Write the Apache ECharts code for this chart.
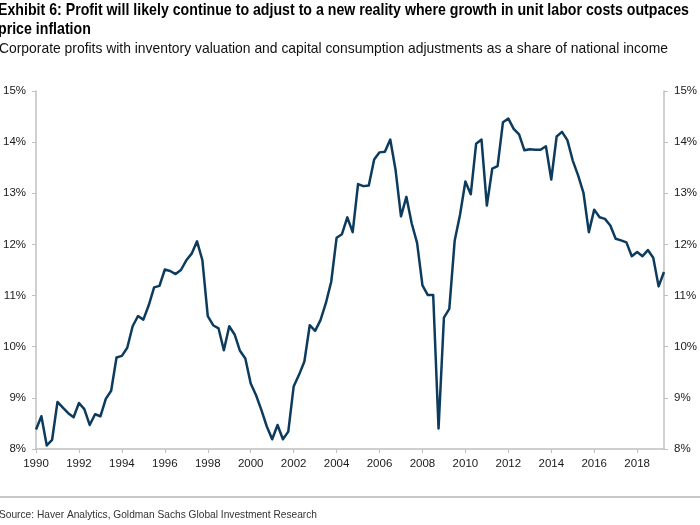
<!DOCTYPE html>
<html>
<head>
<meta charset="utf-8">
<script src="https://cdn.jsdelivr.net/npm/echarts@6/dist/echarts.min.js"></script>
<style>
html,body{margin:0;padding:0;background:#fff;}
#chart{width:700px;height:525px;}
</style>
</head>
<body>
<div id="chart"></div>
<script>
var startYear = 1990;
var profitShare = [
  8.38, 8.64, 8.07, 8.18,
  8.92, 8.81, 8.70, 8.62,
  8.90, 8.78, 8.47, 8.68,
  8.64, 8.98, 9.14, 9.79,
  9.82, 9.98, 10.40, 10.60,
  10.53, 10.81, 11.16, 11.19,
  11.51, 11.48, 11.42, 11.50,
  11.69, 11.82, 12.06, 11.69,
  10.60, 10.42, 10.36, 9.93,
  10.40, 10.24, 9.92, 9.77,
  9.28, 9.05, 8.76, 8.44,
  8.19, 8.47, 8.19, 8.34,
  9.22, 9.45, 9.71, 10.42,
  10.31, 10.52, 10.85, 11.27,
  12.13, 12.20, 12.53, 12.24,
  13.18, 13.14, 13.15, 13.66,
  13.80, 13.81, 14.05, 13.45,
  12.55, 12.93, 12.41, 12.03,
  11.20, 11.01, 11.01, 8.40,
  10.57, 10.74, 12.07, 12.58,
  13.23, 12.98, 13.97, 14.05,
  12.76, 13.48, 13.53, 14.39,
  14.46, 14.26, 14.15, 13.84,
  13.86, 13.85, 13.85, 13.92,
  13.27, 14.11, 14.20, 14.04,
  13.64, 13.35, 13.01, 12.24,
  12.68, 12.53, 12.50, 12.37,
  12.11, 12.08, 12.04, 11.77,
  11.85, 11.77, 11.89, 11.74,
  11.18, 11.46
];
var quarters = [];
for (var i = 0; i < profitShare.length; i++) {
  quarters.push((startYear + Math.floor(i / 4)) + 'Q' + (i % 4 + 1));
}
var yMin = 8, yMax = 15, yStep = 1;

var titleLine1 = 'Exhibit 6: Profit will likely continue to adjust to a new reality where growth in unit labor costs outpaces';
var titleLine2 = 'price inflation';
var subtitleText = 'Corporate profits with inventory valuation and capital consumption adjustments as a share of national income';
var sourceText = 'Source: Haver Analytics, Goldman Sachs Global Investment Research';

var baseFont = '"Liberation Sans", Arial, sans-serif';
var titleFont = 'bold 17px ' + baseFont;
var subFont = '14.5px ' + baseFont;
var srcFont = '11.5px ' + baseFont;

var ctx = document.createElement('canvas').getContext('2d');
function fitScale(text, font, target) {
  ctx.font = font;
  return target / ctx.measureText(text).width;
}
var titleScale = fitScale(titleLine1, titleFont, 691);
var subScale = fitScale(subtitleText, subFont, 669);
var srcScale = fitScale(sourceText, srcFont, 318);

var chart = echarts.init(document.getElementById('chart'));
var axisGray = '#c0c0c0';
var labelStyle = {color: '#1a1a1a', fontFamily: baseFont, fontSize: 11.5};

function txt(text, font, x, y, sx, color) {
  return {type: 'text', x: x, y: y, scaleX: sx, scaleY: 1,
    style: {text: text, font: font, fill: color, textAlign: 'left', textVerticalAlign: 'middle', verticalAlign: 'middle'}};
}

chart.setOption({
  animation: false,
  backgroundColor: '#fff',
  graphic: [
    txt(titleLine1, titleFont, -2, 10.5, titleScale, '#000'),
    txt(titleLine2, titleFont, -2, 29.5, titleScale, '#000'),
    txt(subtitleText, subFont, -1, 48.5, subScale, '#111'),
    {type: 'line', shape: {x1: 0, y1: 497, x2: 700, y2: 497}, style: {stroke: '#c8c8c8', lineWidth: 2}},
    txt(sourceText, srcFont, -1, 514.5, srcScale, '#333')
  ],
  grid: {left: 36, right: 32, top: 91, bottom: 76, containLabel: false},
  xAxis: {
    type: 'category',
    data: quarters,
    boundaryGap: false,
    axisLine: {lineStyle: {color: axisGray, width: 1.5}},
    axisTick: {show: true, length: 4, lineStyle: {color: axisGray}, interval: function (idx) { return idx % 8 === 0; }},
    axisLabel: Object.assign({}, labelStyle, {
      margin: 9,
      interval: function (idx) { return idx % 8 === 0; },
      formatter: function (v) { return v.slice(0, 4); }
    }),
    splitLine: {show: false}
  },
  yAxis: [
    {
      type: 'value', position: 'left', min: yMin, max: yMax, interval: yStep,
      axisLine: {show: true, lineStyle: {color: axisGray, width: 1.5}},
      axisTick: {show: true, length: 4, lineStyle: {color: axisGray}},
      axisLabel: Object.assign({}, labelStyle, {margin: 10, formatter: '{value}%'}),
      splitLine: {show: false}
    },
    {
      type: 'value', position: 'right', min: yMin, max: yMax, interval: yStep,
      axisLine: {show: true, lineStyle: {color: axisGray, width: 1.5}},
      axisTick: {show: true, length: 4, lineStyle: {color: axisGray}},
      axisLabel: Object.assign({}, labelStyle, {margin: 10, formatter: '{value}%'}),
      splitLine: {show: false}
    }
  ],
  series: [{
    type: 'line',
    data: profitShare,
    yAxisIndex: 0,
    showSymbol: false,
    symbol: 'none',
    lineStyle: {color: '#0d3b5e', width: 2.5, join: 'round'}
  }]
});
</script>
</body>
</html>
